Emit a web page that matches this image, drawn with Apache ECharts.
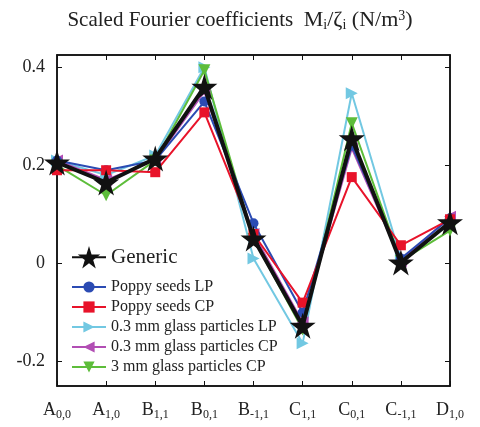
<!DOCTYPE html>
<html><head><meta charset="utf-8">
<script src="https://cdn.jsdelivr.net/npm/echarts@6/dist/echarts.min.js"></script>
<style>html,body{margin:0;padding:0;background:#fff}#c{width:480px;height:427px}</style>
</head><body><div id="c"></div>
<script>
const categories = ['A{s|0,0}','A{s|1,0}','B{s|1,1}','B{s|0,1}','B{s|-1,1}','C{s|1,1}','C{s|0,1}','C{s|-1,1}','D{s|1,0}'];
const yTicks = [-0.2, 0, 0.2, 0.4];
const generic = [0.206, 0.165, 0.214, 0.36, 0.051, -0.127, 0.255, 0.002, 0.084];
const poppyLP = [0.21, 0.19, 0.21, 0.33, 0.082, -0.10, 0.24, 0.01, 0.092];
const poppyCP = [0.19, 0.19, 0.186, 0.308, 0.06, -0.08, 0.176, 0.037, 0.09];
const glassLP = [0.21, 0.18, 0.22, 0.40, 0.01, -0.163, 0.347, 0.01, 0.08];
const glassCP = [0.21, 0.17, 0.21, 0.35, 0.06, -0.12, 0.235, 0.005, 0.095];
const glass3CP = [0.20, 0.139, 0.21, 0.394, 0.05, -0.135, 0.286, 0.005, 0.067];

const serif = 'Liberation Serif';
const star = 'path://M50,0 L61,35 L98,35 L68,57 L79,91 L50,70 L21,91 L32,57 L2,35 L39,35 Z';
function s(name, data, color, symbol, rot, size, width, z) {
  return { name, type: 'line', data, symbol, symbolRotate: rot, symbolSize: size,
    lineStyle: { color, width }, itemStyle: { color }, z, animation: false };
}
const chart = echarts.init(document.getElementById('c'));
chart.setOption({
  backgroundColor: '#fff',
  title: {
    text: 'Scaled Fourier coefficients  {m|M}{sub|i}{m|/ζ}{sub|i}{m| (N/m}{sup|3}{m|)}',
    left: 'center', top: 4,
    textStyle: { fontFamily: serif, fontSize: 21, fontWeight: 'normal', color: '#222',
      rich: {
        m: { fontFamily: serif, fontSize: 22, color: '#222' },
        sub: { fontFamily: serif, fontSize: 14, color: '#222', padding: [9, 0, 0, 0] },
        sup: { fontFamily: serif, fontSize: 14, color: '#222', padding: [0, 0, 9, 0] }
      } }
  },
  grid: { left: 57, right: 30, top: 55, bottom: 41, show: true, borderColor: '#111', borderWidth: 1.5 },
  legend: [
    { data: ['Generic'], left: 66, top: 241, orient: 'vertical', itemWidth: 34, itemHeight: 28,
      textStyle: { fontFamily: serif, fontSize: 21, color: '#222' } },
    { data: ['Poppy seeds LP', 'Poppy seeds CP', '0.3 mm glass particles LP', '0.3 mm glass particles CP', '3 mm glass particles CP'],
      left: 66, top: 274, orient: 'vertical', itemGap: 4, itemWidth: 34, itemHeight: 14,
      textStyle: { fontFamily: serif, fontSize: 16, color: '#222' } }
  ],
  xAxis: [
    { type: 'category', data: categories, boundaryGap: false,
      axisLine: { onZero: false, lineStyle: { color: '#111', width: 1.5 } },
      axisTick: { inside: true, length: 5, interval: 0, lineStyle: { color: '#111' } },
      axisLabel: { interval: 0, margin: 14, fontFamily: serif, fontSize: 18, color: '#222',
        rich: { s: { fontFamily: serif, fontSize: 12, color: '#222', padding: [9, 0, 0, 0] } } } },
    { type: 'category', data: categories, boundaryGap: false, position: 'top',
      axisLine: { onZero: false, lineStyle: { color: '#111', width: 1.5 } },
      axisTick: { inside: true, length: 5, interval: 0, lineStyle: { color: '#111' } },
      axisLabel: { show: false } }
  ],
  yAxis: [
    { type: 'value', min: -0.25, max: 0.425, splitLine: { show: false },
      axisLine: { show: true, onZero: false, lineStyle: { color: '#111', width: 1.5 } },
      axisTick: { show: true, inside: true, length: 5, customValues: yTicks, lineStyle: { color: '#111' } },
      axisLabel: { customValues: yTicks, formatter: v => String(Math.round(v * 10) / 10), margin: 12,
        fontFamily: serif, fontSize: 18, color: '#222' } },
    { type: 'value', min: -0.25, max: 0.425, position: 'right', splitLine: { show: false },
      axisLine: { show: true, onZero: false, lineStyle: { color: '#111', width: 1.5 } },
      axisTick: { show: true, inside: true, length: 5, customValues: yTicks, lineStyle: { color: '#111' } },
      axisLabel: { show: false } }
  ],
  series: [
    s('Generic', generic, '#111', star, 0, 26, 4, 10),
    s('Poppy seeds LP', poppyLP, '#2b4bb3', 'circle', 0, 10, 2, 5),
    s('Poppy seeds CP', poppyCP, '#e8132a', 'rect', 0, 10, 2, 5),
    s('0.3 mm glass particles LP', glassLP, '#72c8e2', 'triangle', -90, 12, 2, 4),
    s('0.3 mm glass particles CP', glassCP, '#b24eb4', 'triangle', 90, 12, 2, 4),
    s('3 mm glass particles CP', glass3CP, '#5dbd3a', 'triangle', 180, 12, 2, 4)
  ]
});
</script></body></html>
